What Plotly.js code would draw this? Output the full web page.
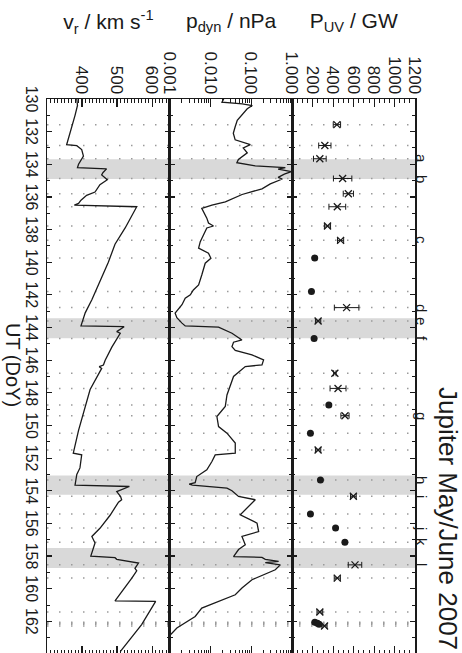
<!DOCTYPE html>
<html><head><meta charset="utf-8">
<script src="https://cdn.plot.ly/plotly-3.0.1.min.js"></script>
<style>
html,body{margin:0;padding:0;overflow:hidden;background:#fff;width:462px;height:653px;}
#chart{position:absolute;left:0;top:0;width:660px;height:462px;transform-origin:0 0;transform:translate(462px,0) rotate(90deg);}
</style></head><body><div id="chart"></div>
<script>
// Solar wind radial velocity (km/s)
const vrDoy = [130.0,130.4,131.0,131.8,132.2,132.8,132.86,133.1,133.5,134.0,134.2,134.28,134.5,134.65,134.95,135.25,135.7,135.9,136.2,136.4,136.5,136.6,137.9,138.9,140.0,141.2,141.7,142.3,143.1,143.9,143.95,144.25,144.35,145.2,146.0,146.3,146.4,146.5,147.8,149.25,150.3,151.7,151.8,152.6,153.0,153.65,153.74,154.05,154.35,154.55,154.7,155.5,156.3,156.8,157.2,158.0,158.1,158.2,158.43,158.75,158.9,159.35,160.07,160.75,160.78,162.2,163.85];
const vrSpeed = [385,387,380,370,363,356,385,399,404,390,387,470,460,456,472,451,437,413,397,390,378,556,523,494,475,451,442,428,409,397,520,499,509,485,466,461,449,456,423,404,390,375,399,394,385,380,535,499,510,513,504,480,451,428,437,425,494,499,561,551,556,542,518,494,610,570,509];

// Solar wind dynamic pressure (nPa)
const pdynDoy = [130.0,130.2,130.3,130.4,130.6,130.9,131.3,131.7,132.1,132.5,132.7,132.8,133.0,133.3,133.7,133.9,134.1,134.2,134.3,134.45,134.6,134.8,134.9,135.2,135.5,135.85,136.3,136.5,136.7,137.3,137.6,137.78,137.9,138.33,138.74,139.14,139.45,139.76,140.06,140.78,141.39,141.7,142.0,142.2,142.6,143.12,143.4,143.73,143.9,143.98,144.35,144.76,144.9,145.17,145.4,145.68,145.98,146.29,146.39,147.0,147.62,148.13,148.84,149.45,150.07,150.47,151.08,151.7,151.8,152.21,152.72,152.9,153.13,153.5,153.6,153.65,153.84,154.0,154.35,154.55,154.97,155.47,155.98,156.5,156.8,157.31,157.6,158.03,158.08,158.2,158.33,158.4,158.54,158.84,159.45,159.96,160.37,160.78,161.19,161.7,162.1,162.41,162.82,162.9];
const pdynPressure = [0.021,0.019,0.06,0.105,0.079,0.063,0.045,0.040,0.036,0.040,0.071,0.094,0.063,0.079,0.048,0.044,0.124,0.674,0.45,0.946,0.637,0.45,0.57,0.289,0.181,0.059,0.023,0.0108,0.0061,0.0081,0.0089,0.0118,0.0081,0.0067,0.0056,0.0051,0.0089,0.0102,0.0074,0.0061,0.0051,0.0038,0.0032,0.0024,0.0020,0.00136,0.0015,0.0020,0.0024,0.0157,0.0334,0.0586,0.0365,0.0334,0.0402,0.103,0.198,0.181,0.0706,0.0365,0.0303,0.0252,0.0229,0.0143,0.0157,0.0252,0.0402,0.0402,0.0130,0.0108,0.0081,0.0061,0.0046,0.0042,0.0030,0.0036,0.0252,0.0334,0.0484,0.124,0.0851,0.0533,0.137,0.150,0.0586,0.0706,0.0484,0.0365,0.181,0.218,0.462,0.218,0.508,0.383,0.103,0.0586,0.0402,0.0157,0.0061,0.0042,0.0024,0.0015,0.00105,0.0009];

// Auroral UV power (GW): crosses with error bars
const uvCrossDoy = [131.57,132.85,133.66,134.87,135.8,136.6,137.78,138.66,142.78,143.6,146.8,147.73,149.4,151.5,154.34,158.54,159.35,161.43,162.28];
const uvCrossPower = [436,318,269,492,548,440,344,472,531,252,416,447,515,252,597,613,440,269,315];
const uvCrossErr = [36,60,62,90,50,82,30,30,120,26,12,78,40,26,28,66,30,28,25];
// Auroral UV power (GW): filled circles
const uvDotDoy = [139.74,141.8,144.67,148.75,150.48,153.34,155.42,156.28,157.15,162.05,162.12,162.18];
const uvDotPower = [219,187,213,357,177,275,177,423,514,220,245,262];

// Shaded intervals
const bandStart = [133.69,143.43,153.07,157.51];
const bandEnd = [134.9,144.65,154.25,158.73];

// Event labels
const eventLabels = ['a','b','c','d','e','f','g','h','i','j','k','l'];
const eventDoy = [133.66,134.87,138.66,142.78,143.6,144.67,149.4,153.34,154.34,156.28,157.15,158.54];

// Tick labels
const vrTicks = [400,500,600];
const pdynTicks = [0.001,0.01,0.1,1];
const pdynTickText = ['0.001','0.010','0.100','1.000'];
const pdynMinorTicks = [0.002,0.003,0.004,0.005,0.006,0.007,0.008,0.009,0.02,0.03,0.04,0.05,0.06,0.07,0.08,0.09,0.2,0.3,0.4,0.5,0.6,0.7,0.8,0.9];
const uvTicks = [200,400,600,800,1000,1200];
const panelTitles = ['v<sub>r</sub> / km s<sup>-1</sup>','p<sub>dyn</sub> / nPa','P<sub>UV</sub> / GW'];
const chartTitle = 'Jupiter May/June 2007';
const xTitle = 'UT (DoY)';

const INK = '#1a1a1a';
const FONT = 'Liberation Sans, Arial, sans-serif';
const NARROW = 'Liberation Sans Narrow, Arial Narrow, Liberation Sans, Arial, sans-serif';

const traces = [
  {x: vrDoy, y: vrSpeed, xaxis:'x', yaxis:'y', mode:'lines', line:{color:INK, width:1.3}, hoverinfo:'skip'},
  {x: pdynDoy, y: pdynPressure, xaxis:'x2', yaxis:'y2', mode:'lines', line:{color:INK, width:1.3}, hoverinfo:'skip'},
  {x: [], y: [], xaxis:'x2', yaxis:'y4', mode:'lines', hoverinfo:'skip'},
  {x: uvCrossDoy, y: uvCrossPower, xaxis:'x3', yaxis:'y3', mode:'markers',
   marker:{symbol:'x-thin', size:7, line:{color:INK, width:1.3}, color:INK},
   error_y:{type:'data', array:uvCrossErr, visible:true, color:INK, thickness:1, width:3}, hoverinfo:'skip'},
  {x: uvDotDoy, y: uvDotPower, xaxis:'x3', yaxis:'y3', mode:'markers',
   marker:{symbol:'circle', size:7, color:INK}, hoverinfo:'skip'}
];

const xCommon = {range:[130,164], showline:true, linecolor:INK, linewidth:1.5, mirror:'ticks',
  ticks:'inside', ticklen:5, tickwidth:1.2, tickcolor:INK, dtick:2, tick0:130, showgrid:false, zeroline:false,
  minor:{dtick:1, tick0:130, ticks:'inside', ticklen:3, tickcolor:INK, tickwidth:1}, automargin:false};
const yCommon = {showline:true, linecolor:INK, linewidth:1.5, mirror:'ticks', ticks:'inside', ticklen:8,
  tickwidth:1.2, tickcolor:INK, showgrid:false, zeroline:false, automargin:false,
  tickfont:{family:FONT, size:17, color:INK}, tickmode:'array'};

const shapes = [];
bandStart.forEach((s,i) => shapes.push({type:'rect', xref:'x', yref:'paper', x0:s, x1:bandEnd[i], y0:0, y1:1,
  fillcolor:'#d9d9d9', line:{width:0}, layer:'below'}));
uvCrossDoy.concat(uvDotDoy).forEach(t => shapes.push({type:'line', xref:'x', yref:'paper', x0:t, x1:t, y0:0, y1:1,
  line:{color:'#9a9a9a', width:1.5, dash:'1.5px,10.5px'}, layer:'below'}));

const annotations = [];
const panelCenters = [1/6, 0.5, 5/6];
panelTitles.forEach((t,i) => annotations.push({text:t, xref:'paper', yref:'paper', x:0, y:panelCenters[i],
  xshift:-77, xanchor:'center', yanchor:'middle', textangle:-90, showarrow:false, font:{family:FONT, size:21, color:INK}}));
eventLabels.forEach((t,i) => annotations.push({text:t, xref:'x3', yref:'paper', x:eventDoy[i], y:1, yshift:7,
  xanchor:'center', yanchor:'middle', showarrow:false, font:{family:FONT, size:15, color:INK}}));
annotations.push({text:chartTitle, xref:'paper', yref:'paper', x:0.9964, y:1, yshift:33, xanchor:'right', yanchor:'middle',
  showarrow:false, font:{family:FONT, size:26, color:INK}});
annotations.push({text:xTitle, xref:'paper', yref:'paper', x:0.479, y:0, yshift:-34, xanchor:'center', yanchor:'middle',
  showarrow:false, font:{family:FONT, size:20, color:INK}});

const layout = {
  width:660, height:462, margin:{l:99, r:6, t:47, b:47}, paper_bgcolor:'#fff', plot_bgcolor:'rgba(0,0,0,0)',
  showlegend:false,
  xaxis: Object.assign({}, xCommon, {anchor:'y', showticklabels:true, tickfont:{family:NARROW, size:16, color:INK}}),
  xaxis2: Object.assign({}, xCommon, {anchor:'y2', matches:'x', showticklabels:false}),
  xaxis3: Object.assign({}, xCommon, {anchor:'y3', matches:'x', showticklabels:false}),
  yaxis: Object.assign({}, yCommon, {domain:[0,1/3], range:[300,650], tickvals:vrTicks,
    minor:{tick0:300, dtick:10, ticks:'inside', ticklen:4, tickcolor:INK, tickwidth:1}}),
  yaxis2: Object.assign({}, yCommon, {domain:[1/3,2/3], type:'log', range:[-3,0], tickvals:pdynTicks, ticktext:pdynTickText}),
  yaxis4: {overlaying:'y2', anchor:'x2', side:'left', type:'log', range:[-3,0], tickmode:'array', tickvals:pdynMinorTicks,
    showticklabels:false, ticks:'inside', ticklen:4, tickwidth:1, tickcolor:INK, mirror:'ticks', showline:false,
    showgrid:false, zeroline:false, automargin:false},
  yaxis3: Object.assign({}, yCommon, {domain:[2/3,1], range:[0,1200], tickvals:uvTicks,
    minor:{tick0:0, dtick:50, ticks:'inside', ticklen:4, tickcolor:INK, tickwidth:1}}),
  shapes: shapes,
  annotations: annotations
};

Plotly.newPlot('chart', traces, layout, {staticPlot:true, displayModeBar:false});
</script></body></html>
